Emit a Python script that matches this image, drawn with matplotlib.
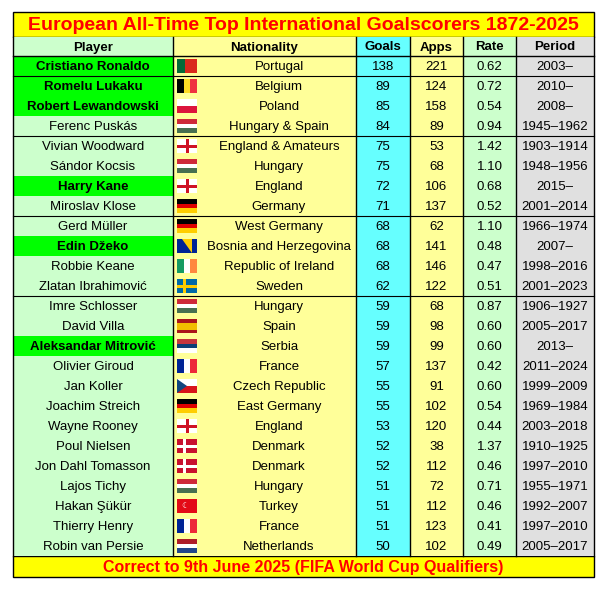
import matplotlib.pyplot as plt
from matplotlib.patches import Rectangle, Polygon

plt.rcParams['font.family'] = ['Liberation Sans', 'DejaVu Sans']

players = ["Cristiano Ronaldo", "Romelu Lukaku", "Robert Lewandowski", "Ferenc Puskás",
           "Vivian Woodward", "Sándor Kocsis", "Harry Kane", "Miroslav Klose",
           "Gerd Müller", "Edin Džeko", "Robbie Keane", "Zlatan Ibrahimović",
           "Imre Schlosser", "David Villa", "Aleksandar Mitrović", "Olivier Giroud",
           "Jan Koller", "Joachim Streich", "Wayne Rooney", "Poul Nielsen",
           "Jon Dahl Tomasson", "Lajos Tichy", "Hakan Şükür", "Thierry Henry",
           "Robin van Persie"]
nations = ["Portugal", "Belgium", "Poland", "Hungary & Spain", "England & Amateurs",
           "Hungary", "England", "Germany", "West Germany", "Bosnia and Herzegovina",
           "Republic of Ireland", "Sweden", "Hungary", "Spain", "Serbia", "France",
           "Czech Republic", "East Germany", "England", "Denmark", "Denmark",
           "Hungary", "Turkey", "France", "Netherlands"]
flags = ["POR", "BEL", "POL", "HUN", "ENG", "HUN", "ENG", "GER", "GER", "BIH", "IRL",
         "SWE", "HUN", "ESP", "SRB", "FRA", "CZE", "GER", "ENG", "DEN", "DEN", "HUN",
         "TUR", "FRA", "NED"]
goals = [138, 89, 85, 84, 75, 75, 72, 71, 68, 68, 68, 62, 59, 59, 59, 57, 55, 55, 53,
         52, 52, 51, 51, 51, 50]
apps = [221, 124, 158, 89, 53, 68, 106, 137, 62, 141, 146, 122, 68, 98, 99, 137, 91,
        102, 120, 38, 112, 72, 112, 123, 102]
rates = ["0.62", "0.72", "0.54", "0.94", "1.42", "1.10", "0.68", "0.52", "1.10", "0.48",
         "0.47", "0.51", "0.87", "0.60", "0.60", "0.42", "0.60", "0.54", "0.44", "1.37",
         "0.46", "0.71", "0.46", "0.41", "0.49"]
periods = ["2003–", "2010–", "2008–", "1945–1962", "1903–1914", "1948–1956", "2015–",
           "2001–2014", "1966–1974", "2007–", "1998–2016", "2001–2023", "1906–1927",
           "2005–2017", "2013–", "2011–2024", "1999–2009", "1969–1984", "2003–2018",
           "1910–1925", "1997–2010", "1955–1971", "1992–2007", "1997–2010", "2005–2017"]
active = ["Cristiano Ronaldo", "Romelu Lukaku", "Robert Lewandowski", "Harry Kane",
          "Edin Džeko", "Aleksandar Mitrović"]
group_breaks = [1, 4, 8, 12]

fig = plt.figure(figsize=(6.05, 5.92), dpi=100)
ax = fig.add_axes([0, 0, 1, 1])
ax.set_xlim(0, 605)
ax.set_ylim(592, 0)
ax.axis('off')

cols = [13, 173, 356, 410, 463, 516, 594]
col_bg = ['#CCFFCC', '#FFFF99', '#66FFFF', '#FFFF99', '#CCFFCC', '#E0E0E0']
top_title, top_head, top_rows, rh = 12, 37, 56, 20
n = len(players)
bottom = top_rows + n * rh
foot = bottom + 21

def rect(x0, y0, x1, y1, fc, lw=0, ec='black', z=1):
    ax.add_patch(Rectangle((x0, y0), x1 - x0, y1 - y0, fc=fc, ec=ec, lw=lw, zorder=z))

# title and footer
rect(cols[0], top_title, cols[-1], top_head, '#FFFF00', 1)
ax.text(303, (top_title + top_head) / 2 + 1, "European All-Time Top International Goalscorers 1872-2025",
        color='#FF0000', fontsize=14, fontweight='bold', ha='center', va='center')
rect(cols[0], bottom, cols[-1], foot, '#FFFF00', 1)
ax.text(303, (bottom + foot) / 2 + 1, "Correct to 9th June 2025 (FIFA World Cup Qualifiers)",
        color='#FF0000', fontsize=11.5, fontweight='bold', ha='center', va='center')

# column backgrounds
for i in range(6):
    rect(cols[i], top_head, cols[i + 1], bottom, col_bg[i])
for i, p in enumerate(players):
    if p in active:
        rect(cols[0], top_rows + i * rh, cols[1], top_rows + (i + 1) * rh, '#00FF00')

headers = ["Player", "Nationality", "Goals", "Apps", "Rate", "Period"]
for i, h in enumerate(headers):
    ax.text((cols[i] + cols[i + 1]) / 2, (top_head + top_rows) / 2 + 1, h,
            fontsize=9.5, fontweight='bold', ha='center', va='center')

def flag(code, x, y, w=20, h=14):
    def hs(colors):
        for k, c in enumerate(colors):
            rect(x, y + k * h / len(colors), x + w, y + (k + 1) * h / len(colors), c, z=3)
    def vs(colors, fr=None):
        fr = fr or [1 / len(colors)] * len(colors)
        xx = x
        for c, f in zip(colors, fr):
            rect(xx, y, xx + f * w, y + h, c, z=3)
            xx += f * w
    def cross(bg, fg, cx):
        rect(x, y, x + w, y + h, bg, z=3)
        rect(x + cx - 1.5, y, x + cx + 1.5, y + h, fg, z=4)
        rect(x, y + h / 2 - 1.5, x + w, y + h / 2 + 1.5, fg, z=4)
    if code == "POR": vs(['#046A38', '#DA291C'], [0.4, 0.6])
    elif code == "BEL": vs(['#000000', '#FDDA24', '#EF3340'])
    elif code == "POL": hs(['#FFFFFF', '#DC143C'])
    elif code == "HUN": hs(['#CE2939', '#FFFFFF', '#477050'])
    elif code == "ENG": cross('#FFFFFF', '#CE1124', w / 2)
    elif code == "GER": hs(['#000000', '#DD0000', '#FFCE00'])
    elif code == "BIH":
        rect(x, y, x + w, y + h, '#002395', z=3)
        ax.add_patch(Polygon([(x + 5, y), (x + 15, y), (x + 15, y + h)], fc='#FECB00', zorder=4))
    elif code == "IRL": vs(['#169B62', '#FFFFFF', '#FF883E'])
    elif code == "SWE": cross('#006AA7', '#FECC00', 7)
    elif code == "DEN": cross('#C8102E', '#FFFFFF', 7)
    elif code == "ESP": hs(['#AA151B', '#F1BF00', '#F1BF00', '#AA151B'])
    elif code == "SRB": hs(['#C6363C', '#0C4076', '#FFFFFF'])
    elif code == "FRA": vs(['#002395', '#FFFFFF', '#ED2939'])
    elif code == "CZE":
        hs(['#FFFFFF', '#D7141A'])
        ax.add_patch(Polygon([(x, y), (x + 10, y + h / 2), (x, y + h)], fc='#11457E', zorder=4))
    elif code == "TUR":
        rect(x, y, x + w, y + h, '#E30A17', z=3)
        ax.text(x + 8, y + h / 2, "☾", color='white', fontsize=6, ha='center', va='center', zorder=5)
    elif code == "NED": hs(['#AE1C28', '#FFFFFF', '#21468B'])

for i in range(n):
    yc = top_rows + i * rh + rh / 2 + 1
    bold = 'bold' if players[i] in active else 'normal'
    ax.text((cols[0] + cols[1]) / 2, yc, players[i], fontsize=9.5, fontweight=bold,
            ha='center', va='center')
    flag(flags[i], cols[1] + 4, top_rows + i * rh + 3)
    ax.text(279, yc, nations[i], fontsize=9.5, ha='center', va='center')
    vals = [goals[i], apps[i], rates[i], periods[i]]
    for j, v in enumerate(vals):
        ax.text((cols[j + 2] + cols[j + 3]) / 2, yc, str(v), fontsize=9.5,
                ha='center', va='center')

# grid lines
ax.plot([cols[0], cols[-1]], [top_rows, top_rows], color='black', lw=1, zorder=6)
for b in group_breaks:
    yy = top_rows + b * rh
    ax.plot([cols[0], cols[-1]], [yy, yy], color='black', lw=0.8, zorder=6)
for x in cols:
    ax.plot([x, x], [top_head, bottom], color='black', lw=1, zorder=6)

fig.savefig("out.png", dpi=100)
